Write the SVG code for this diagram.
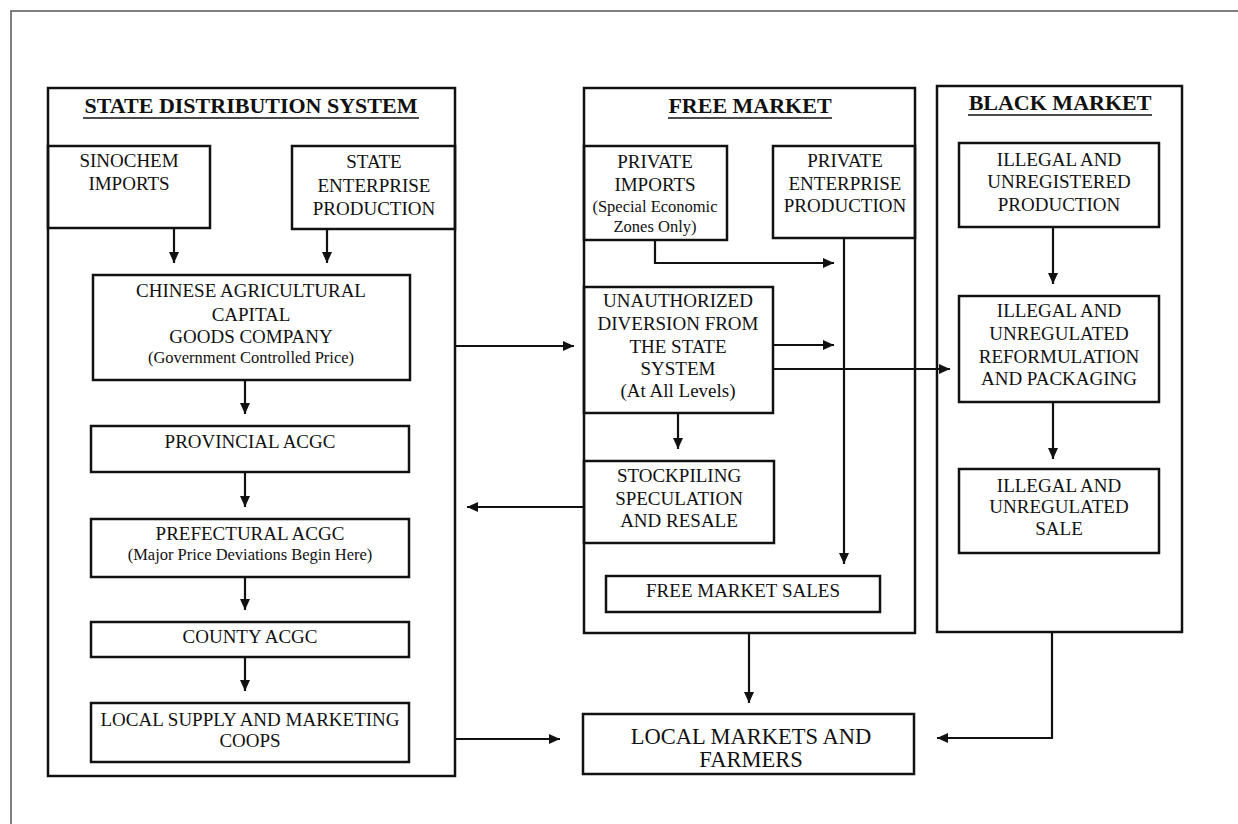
<svg xmlns="http://www.w3.org/2000/svg" width="1238" height="824" viewBox="0 0 1238 824">
<style>
.bx{fill:none;stroke:#111;stroke-width:2.5}
.fr{fill:none;stroke:#555;stroke-width:1.5}
.ln{fill:none;stroke:#111;stroke-width:2.2}
.ar{fill:none;stroke:#111;stroke-width:2.2;marker-end:url(#ah)}
.t{font-family:"Liberation Serif","Times New Roman",serif;font-size:19px;fill:#111;text-anchor:middle}
.s{font-size:16.5px}
.b{font-size:22.5px}
.h{font-family:"Liberation Serif","Times New Roman",serif;font-size:22px;font-weight:bold;fill:#111;text-anchor:middle}
.ul{stroke:#111;stroke-width:1.6}
</style>
<defs>
<marker id="ah" markerUnits="userSpaceOnUse" markerWidth="11" markerHeight="10" refX="11" refY="5" orient="auto">
<path d="M0,0 L11,5 L0,10 z" fill="#111"/>
</marker>
</defs>
<rect width="1238" height="824" fill="#fff"/>
<path class="fr" d="M11,824 L11,11 L1238,11"/>

<g id="state-distribution-system">
<rect class="bx" x="48" y="88" width="407" height="688"/>
<text class="h" x="251" y="113">STATE DISTRIBUTION SYSTEM</text>
<line class="ul" x1="83" y1="118" x2="419" y2="118"/>
</g>
<g id="sinochem-imports">
<rect class="bx" x="48" y="146" width="162" height="82"/>
<text class="t" x="129" y="167">SINOCHEM</text>
<text class="t" x="129" y="190">IMPORTS</text>
</g>
<g id="state-enterprise-production">
<rect class="bx" x="292" y="146" width="163" height="83"/>
<text class="t" x="374" y="168">STATE</text>
<text class="t" x="374" y="192">ENTERPRISE</text>
<text class="t" x="374" y="215">PRODUCTION</text>
</g>
<g id="cagc">
<rect class="bx" x="93" y="275" width="317" height="105"/>
<text class="t" x="251" y="297">CHINESE AGRICULTURAL</text>
<text class="t" x="251" y="321">CAPITAL</text>
<text class="t" x="251" y="343">GOODS COMPANY</text>
<text class="t s" x="251" y="363">(Government Controlled Price)</text>
</g>
<g id="provincial-acgc">
<rect class="bx" x="91" y="426" width="318" height="46"/>
<text class="t" x="250" y="448">PROVINCIAL ACGC</text>
</g>
<g id="prefectural-acgc">
<rect class="bx" x="91" y="519" width="318" height="58"/>
<text class="t" x="250" y="540">PREFECTURAL ACGC</text>
<text class="t s" x="250" y="560">(Major Price Deviations Begin Here)</text>
</g>
<g id="county-acgc">
<rect class="bx" x="91" y="622" width="318" height="35"/>
<text class="t" x="250" y="643">COUNTY ACGC</text>
</g>
<g id="local-supply">
<rect class="bx" x="91" y="703" width="318" height="59"/>
<text class="t" x="250" y="726">LOCAL SUPPLY AND MARKETING</text>
<text class="t" x="250" y="747">COOPS</text>
</g>

<g id="free-market">
<rect class="bx" x="584" y="88" width="331" height="545"/>
<text class="h" x="750" y="113">FREE MARKET</text>
<line class="ul" x1="668" y1="118" x2="832" y2="118"/>
</g>
<g id="private-imports">
<rect class="bx" x="584" y="146" width="143" height="94"/>
<text class="t" x="655" y="168">PRIVATE</text>
<text class="t" x="655" y="191">IMPORTS</text>
<text class="t s" x="655" y="212">(Special Economic</text>
<text class="t s" x="655" y="232">Zones Only)</text>
</g>
<g id="private-enterprise">
<rect class="bx" x="773" y="146" width="142" height="92"/>
<text class="t" x="845" y="167">PRIVATE</text>
<text class="t" x="845" y="190">ENTERPRISE</text>
<text class="t" x="845" y="212">PRODUCTION</text>
</g>
<g id="unauthorized-diversion">
<rect class="bx" x="584" y="287" width="189" height="126"/>
<text class="t" x="678" y="307">UNAUTHORIZED</text>
<text class="t" x="678" y="330">DIVERSION FROM</text>
<text class="t" x="678" y="353">THE STATE</text>
<text class="t" x="678" y="375">SYSTEM</text>
<text class="t" x="678" y="397">(At All Levels)</text>
</g>
<g id="stockpiling">
<rect class="bx" x="584" y="461" width="190" height="82"/>
<text class="t" x="679" y="482">STOCKPILING</text>
<text class="t" x="679" y="505">SPECULATION</text>
<text class="t" x="679" y="527">AND RESALE</text>
</g>
<g id="free-market-sales">
<rect class="bx" x="606" y="576" width="274" height="36"/>
<text class="t" x="743" y="597">FREE MARKET SALES</text>
</g>

<g id="black-market">
<rect class="bx" x="937" y="86" width="245" height="546"/>
<text class="h" x="1060" y="110">BLACK MARKET</text>
<line class="ul" x1="968" y1="115" x2="1152" y2="115"/>
</g>
<g id="illegal-unregistered-production">
<rect class="bx" x="959" y="143" width="200" height="84"/>
<text class="t" x="1059" y="166">ILLEGAL AND</text>
<text class="t" x="1059" y="188">UNREGISTERED</text>
<text class="t" x="1059" y="211">PRODUCTION</text>
</g>
<g id="illegal-reformulation">
<rect class="bx" x="959" y="296" width="200" height="106"/>
<text class="t" x="1059" y="317">ILLEGAL AND</text>
<text class="t" x="1059" y="340">UNREGULATED</text>
<text class="t" x="1059" y="363">REFORMULATION</text>
<text class="t" x="1059" y="385">AND PACKAGING</text>
</g>
<g id="illegal-sale">
<rect class="bx" x="959" y="469" width="200" height="84"/>
<text class="t" x="1059" y="492">ILLEGAL AND</text>
<text class="t" x="1059" y="513">UNREGULATED</text>
<text class="t" x="1059" y="535">SALE</text>
</g>

<g id="local-markets">
<rect class="bx" x="583" y="714" width="331" height="60"/>
<text class="t b" x="751" y="744">LOCAL MARKETS AND</text>
<text class="t b" x="751" y="767">FARMERS</text>
</g>

<g id="connectors">
<path class="ar" d="M174,228 L174,263"/>
<path class="ar" d="M327,229 L327,263"/>
<path class="ar" d="M245,380 L245,414"/>
<path class="ar" d="M245,472 L245,507"/>
<path class="ar" d="M245,577 L245,610"/>
<path class="ar" d="M245,657 L245,691"/>
<path class="ar" d="M455,346 L574,346"/>
<path class="ar" d="M584,507 L467,507"/>
<path class="ar" d="M455,739 L560,739"/>
<path class="ar" d="M655,240 L655,263 L834,263"/>
<path class="ar" d="M773,345 L834,345"/>
<path class="ar" d="M773,369 L950,369"/>
<path class="ar" d="M678,413 L678,449"/>
<path class="ar" d="M844,238 L844,564"/>
<path class="ar" d="M749,633 L749,703"/>
<path class="ar" d="M1053,227 L1053,284"/>
<path class="ar" d="M1053,402 L1053,459"/>
<path class="ar" d="M1052,632 L1052,738 L937,738"/>
</g>
</svg>
